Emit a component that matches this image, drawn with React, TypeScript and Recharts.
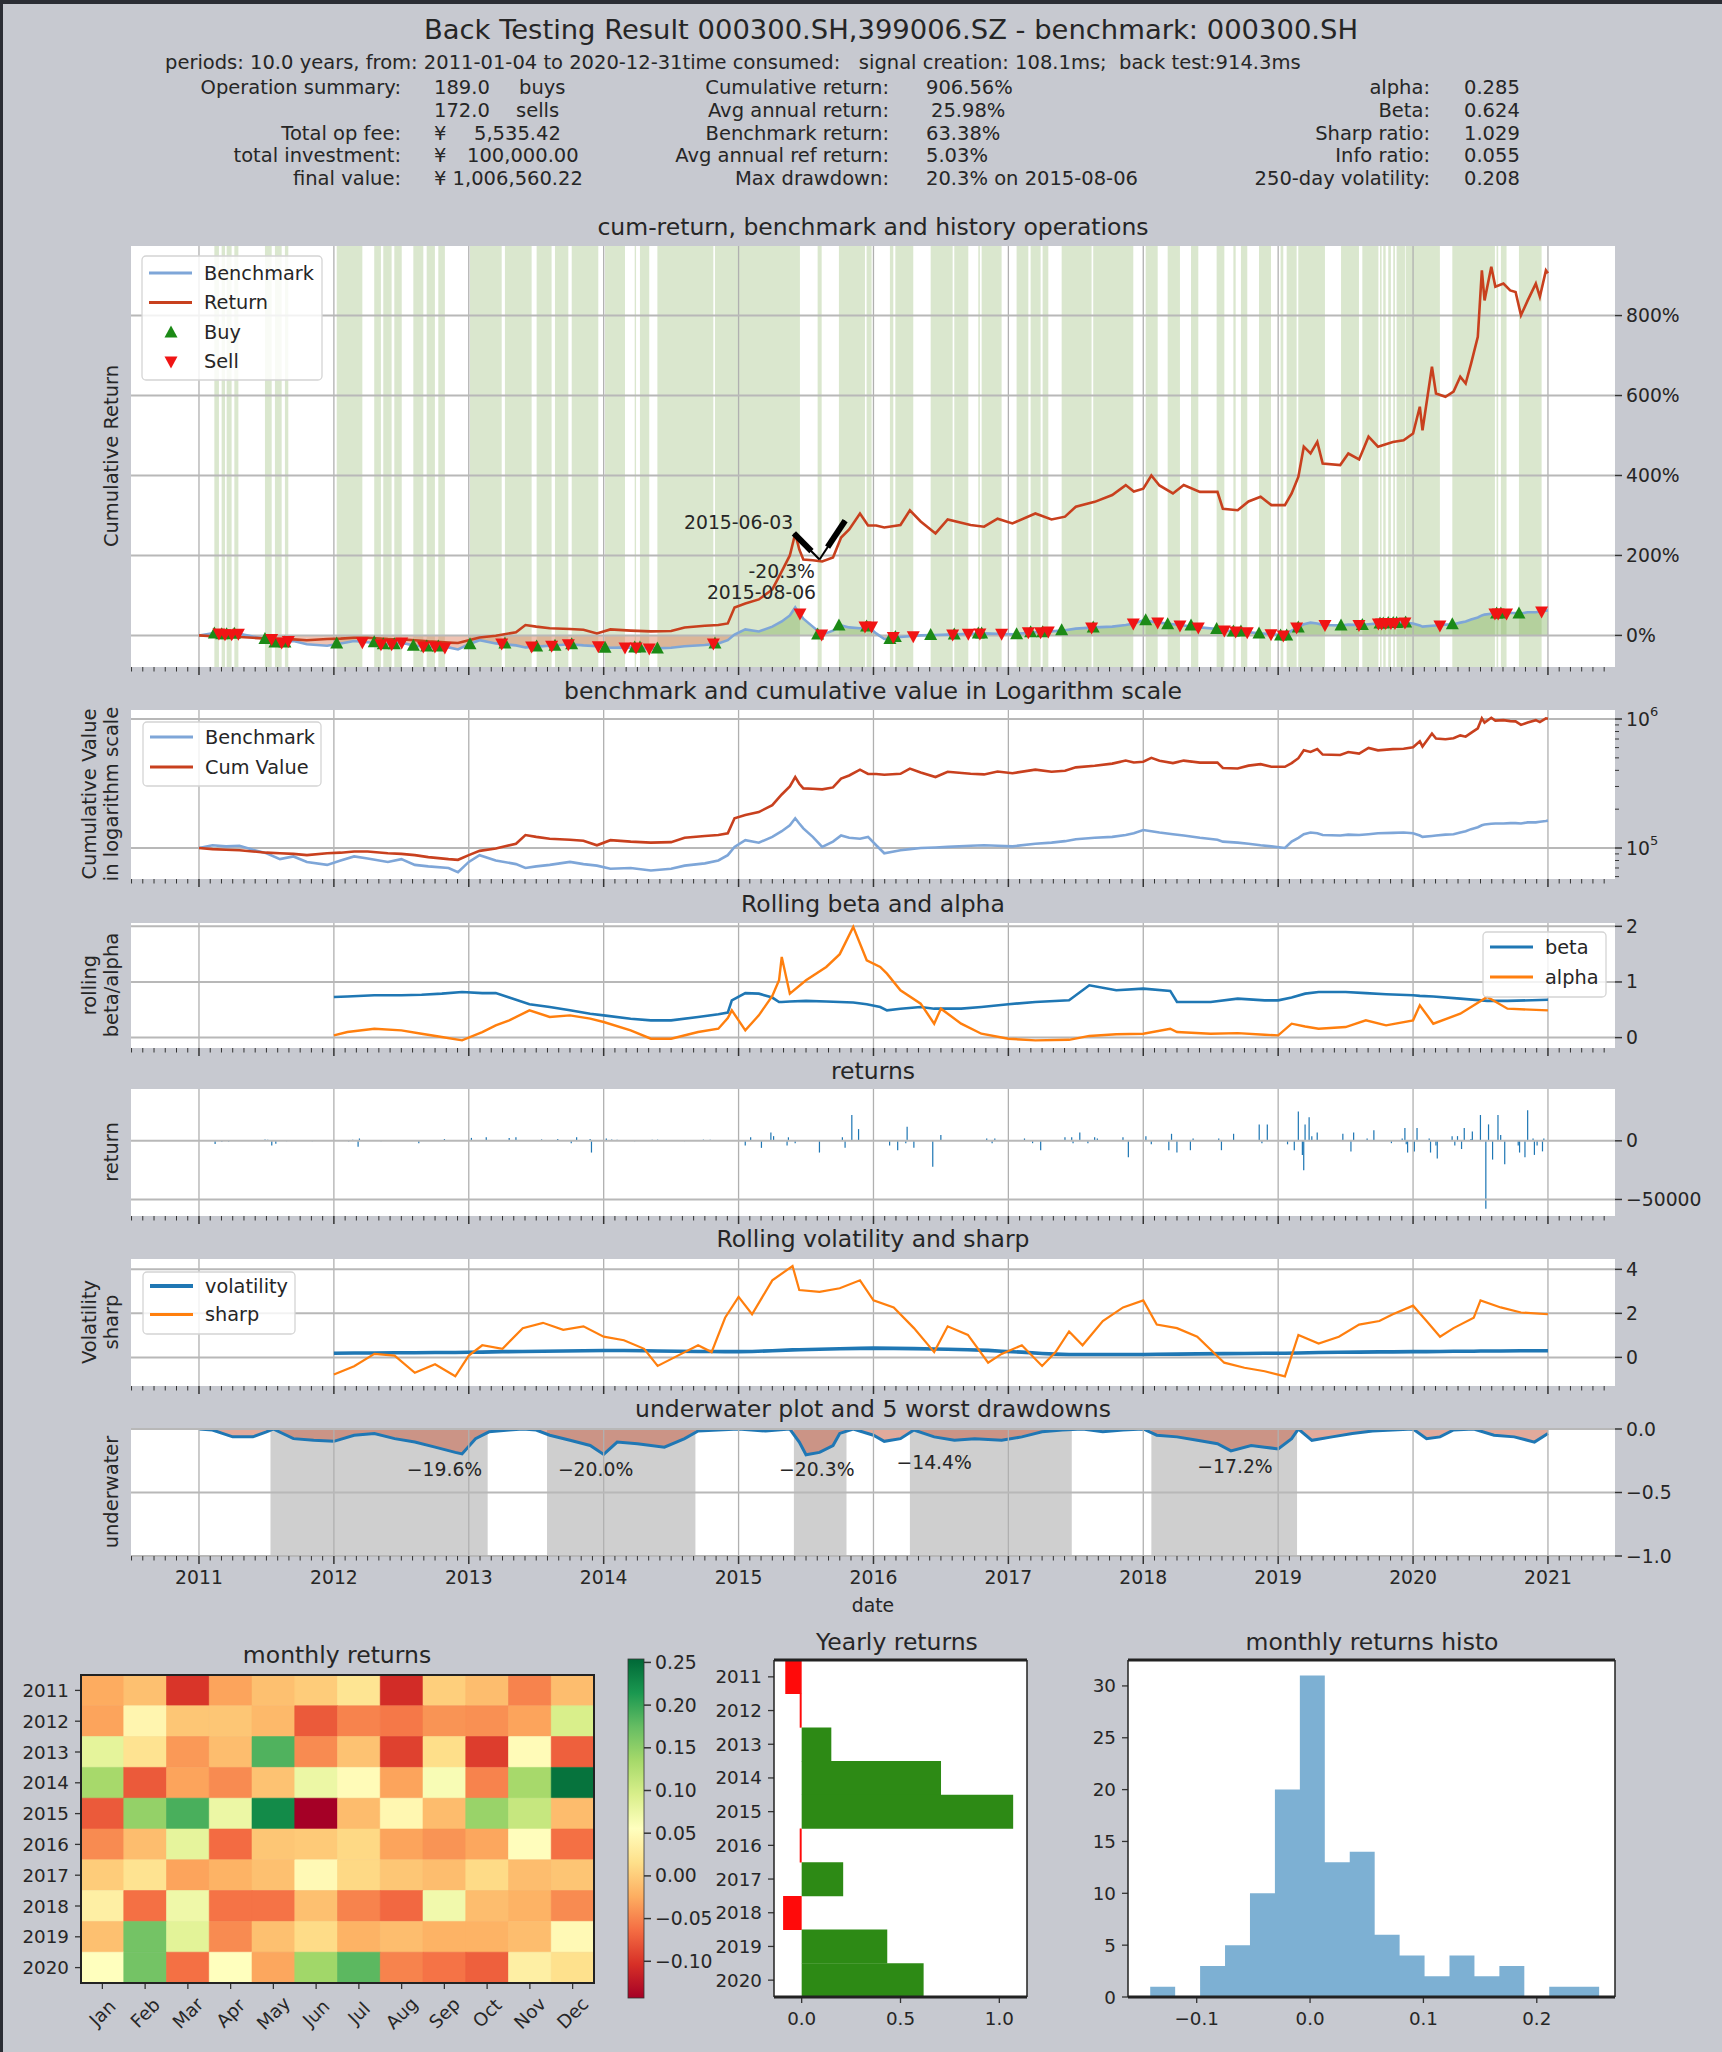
import React from 'react';
import {
  ComposedChart, BarChart, AreaChart, Line, Area, Bar, Scatter, XAxis, YAxis,
  ReferenceLine, ReferenceArea, ReferenceDot, Cell,
} from 'recharts';

const FONT = '"DejaVu Sans", "Noto Sans", sans-serif';
const BG = '#c7c9d0';
const INK = '#262626';
const FS = 18.8;
const FS_TXT = 19.5;
const FS_TITLE = 23.5;

// ---------- cumulative return vs benchmark (%) ----------
const cumDates = [
  2011.00, 2011.10, 2011.20, 2011.30, 2011.40, 2011.50, 2011.60, 2011.70, 2011.80, 2011.95,
  2012.05, 2012.15, 2012.25, 2012.40, 2012.50, 2012.60, 2012.70, 2012.85, 2012.92, 2013.00,
  2013.08, 2013.20, 2013.35, 2013.42, 2013.50, 2013.60, 2013.75, 2013.85, 2013.95, 2014.05,
  2014.20, 2014.35, 2014.50, 2014.60, 2014.75, 2014.85, 2014.92, 2014.97, 2015.05, 2015.15,
  2015.25, 2015.32, 2015.38, 2015.42, 2015.45, 2015.48, 2015.55, 2015.62, 2015.70, 2015.76,
  2015.82, 2015.90, 2015.96, 2016.02, 2016.08, 2016.20, 2016.27, 2016.35, 2016.46, 2016.55,
  2016.72, 2016.82, 2016.92, 2017.03, 2017.20, 2017.32, 2017.42, 2017.50, 2017.64, 2017.77,
  2017.87, 2017.93, 2018.00, 2018.06, 2018.12, 2018.22, 2018.30, 2018.42, 2018.55, 2018.59,
  2018.70, 2018.78, 2018.87, 2018.95, 2019.05, 2019.10, 2019.15, 2019.19, 2019.24, 2019.29,
  2019.33, 2019.46, 2019.52, 2019.60, 2019.67, 2019.74, 2019.85, 2019.93, 2020.00, 2020.05,
  2020.07, 2020.14, 2020.17, 2020.24, 2020.30, 2020.35, 2020.39, 2020.43, 2020.48, 2020.51,
  2020.53, 2020.58, 2020.61, 2020.67, 2020.72, 2020.76, 2020.80, 2020.85, 2020.91, 2020.94,
  2020.985, 2021.00,
];
const cumReturn = [
  0, -2, -3, -4, -6, -8, -9, -10, -12, -9,
  -8, -6, -6, -9, -10, -12, -15, -18, -19, -12,
  -5, -1, 8, 26, 22, 18, 16, 14, 5, 15,
  12, 10, 11, 20, 24, 26, 30, 70, 80, 90,
  115, 160, 200, 255, 215, 190, 188, 185, 195, 245,
  265, 305, 275, 275, 270, 276, 313, 285, 255, 290,
  276, 272, 292, 280, 305, 290, 297, 322, 334, 351,
  376, 360, 367, 400, 375, 355, 376, 359, 359, 317,
  313, 335, 347, 326, 326, 355, 397, 472, 455, 484,
  430, 426, 455, 440, 497, 472, 484, 488, 505, 572,
  513, 672, 605, 597, 610, 647, 630, 680, 747, 913,
  838, 922, 872, 880, 863, 859, 801, 838, 880, 847,
  913, 906,
];
const benchReturn = [
  0, 5, 3, 4, -3, -9, -18, -14, -22, -26,
  -20, -14, -17, -22, -18, -26, -28, -30, -35, -22,
  -12, -20, -25, -30, -28, -26, -22, -25, -27, -31,
  -30, -33, -31, -27, -24, -20, -12, 2, 15, 10,
  22, 35, 50, 70, 55, 42, 22, 2, 12, 25,
  20, 18, 22, 5, -9, -4, -2, 0, 1, 2,
  4, 5, 4, 3, 8, 10, 13, 17, 20, 22,
  26, 30, 38, 35, 32, 28, 25, 20, 16, 12,
  10, 8, 5, 3, 0, 12, 20, 28, 32, 30,
  26, 25, 27, 26, 28, 30, 31, 32, 30, 25,
  22, 24, 25, 27, 28, 32, 35, 40, 45, 50,
  52, 54, 55, 55, 56, 56, 55, 58, 58, 60,
  62, 63,
];

// holding periods (green bands): [start, end] in years
const BANDS = [
  [2011.114, 2011.148], [2011.168, 2011.193], [2011.205, 2011.242], [2011.262, 2011.292],
  [2011.489, 2011.539], [2011.563, 2011.613], [2011.637, 2011.662],
  [2012.021, 2012.211], [2012.299, 2012.349], [2012.366, 2012.428], [2012.448, 2012.503],
  [2012.589, 2012.663], [2012.688, 2012.749], [2012.774, 2012.823],
  [2013.009, 2013.244], [2013.268, 2013.466], [2013.503, 2013.614], [2013.639, 2013.738], [2013.763, 2013.960],
  [2014.010, 2014.158], [2014.230, 2014.240], [2014.269, 2014.338], [2014.398, 2014.813], [2014.825, 2015.455],
  [2015.586, 2015.616], [2015.744, 2015.937], [2015.949, 2015.986],
  [2016.122, 2016.147], [2016.162, 2016.295], [2016.424, 2016.587], [2016.599, 2016.703],
  [2016.777, 2016.789], [2016.802, 2016.950],
  [2017.061, 2017.148], [2017.165, 2017.239], [2017.254, 2017.296], [2017.395, 2017.617], [2017.629, 2017.926],
  [2018.018, 2018.107], [2018.181, 2018.272], [2018.354, 2018.408], [2018.544, 2018.601],
  [2018.668, 2018.685], [2018.724, 2018.771], [2018.858, 2018.947],
  [2019.018, 2019.038], [2019.063, 2019.137], [2019.149, 2019.347], [2019.466, 2019.599], [2019.624, 2019.743],
  [2019.755, 2019.767], [2019.779, 2019.797], [2019.816, 2019.836], [2019.853, 2019.866],
  [2019.878, 2019.940], [2019.945, 2020.199],
  [2020.291, 2020.607], [2020.619, 2020.631], [2020.651, 2020.693], [2020.785, 2020.953],
];

// ---------- rolling beta / alpha ----------
const betaDates = [
  2012.00, 2012.10, 2012.30, 2012.50, 2012.65, 2012.80, 2012.95, 2013.10, 2013.20, 2013.30,
  2013.45, 2013.60, 2013.75, 2013.90, 2014.00, 2014.20, 2014.35, 2014.50, 2014.70, 2014.85,
  2014.92, 2014.95, 2015.05, 2015.15, 2015.25, 2015.30, 2015.32, 2015.38, 2015.50, 2015.65,
  2015.75, 2015.85, 2015.95, 2016.05, 2016.10, 2016.20, 2016.35, 2016.45, 2016.50, 2016.65,
  2016.80, 2017.00, 2017.20, 2017.45, 2017.60, 2017.80, 2018.00, 2018.20, 2018.25, 2018.50,
  2018.70, 2018.90, 2019.00, 2019.10, 2019.20, 2019.30, 2019.50, 2019.65, 2019.80, 2020.00,
  2020.05, 2020.15, 2020.35, 2020.55, 2020.70, 2021.00,
];
const rollingBeta = [
  0.73, 0.74, 0.76, 0.76, 0.77, 0.79, 0.82, 0.80, 0.80, 0.72,
  0.60, 0.55, 0.49, 0.43, 0.40, 0.34, 0.31, 0.31, 0.37, 0.42,
  0.45, 0.67, 0.80, 0.79, 0.72, 0.64, 0.64, 0.65, 0.66, 0.65,
  0.64, 0.63, 0.60, 0.55, 0.49, 0.52, 0.55, 0.52, 0.52, 0.52,
  0.55, 0.60, 0.64, 0.67, 0.94, 0.85, 0.88, 0.84, 0.64, 0.64,
  0.70, 0.67, 0.67, 0.72, 0.79, 0.82, 0.82, 0.80, 0.78, 0.76,
  0.75, 0.74, 0.70, 0.66, 0.66, 0.68,
];
const rollingAlpha = [
  0.04, 0.10, 0.16, 0.13, 0.07, 0.01, -0.05, 0.10, 0.22, 0.31,
  0.49, 0.37, 0.40, 0.34, 0.28, 0.13, -0.02, -0.02, 0.10, 0.16,
  0.35, 0.49, 0.13, 0.40, 0.75, 1.03, 1.45, 0.79, 1.03, 1.27,
  1.50, 1.99, 1.39, 1.27, 1.15, 0.85, 0.61, 0.25, 0.52, 0.25,
  0.07, -0.02, -0.05, -0.04, 0.03, 0.06, 0.07, 0.16, 0.10, 0.07,
  0.08, 0.05, 0.04, 0.25, 0.20, 0.16, 0.19, 0.31, 0.22, 0.31,
  0.58, 0.25, 0.43, 0.73, 0.52, 0.49,
];

// ---------- daily return spikes ----------
const spikeDates = [
  2011.12, 2011.17, 2011.22, 2011.49, 2011.51, 2011.54, 2011.57, 2011.65, 2011.84, 2012.11,
  2012.14, 2012.18, 2012.19, 2012.35, 2012.63, 2012.82, 2013.02, 2013.06, 2013.13, 2013.16,
  2013.22, 2013.30, 2013.35, 2013.47, 2013.54, 2013.66, 2013.76, 2013.80, 2013.90, 2013.91,
  2014.02, 2014.06, 2014.10, 2014.23, 2014.36, 2014.40, 2014.53, 2014.60, 2014.74, 2014.79,
  2014.90, 2015.05, 2015.09, 2015.17, 2015.24, 2015.26, 2015.36, 2015.37, 2015.42, 2015.60,
  2015.77, 2015.79, 2015.84, 2015.89, 2016.12, 2016.18, 2016.24, 2016.25, 2016.30, 2016.44,
  2016.50, 2016.84, 2016.88, 2016.90, 2017.12, 2017.18, 2017.24, 2017.42, 2017.47, 2017.48,
  2017.53, 2017.59, 2017.64, 2017.66, 2017.85, 2017.89, 2018.02, 2018.06, 2018.19, 2018.21,
  2018.25, 2018.35, 2018.37, 2018.56, 2018.58, 2018.67, 2018.86, 2018.88, 2018.92, 2019.07,
  2019.12, 2019.15, 2019.18, 2019.19, 2019.20, 2019.23, 2019.25, 2019.29, 2019.48, 2019.54,
  2019.56, 2019.66, 2019.71, 2019.84, 2019.92, 2019.94, 2019.95, 2019.96, 2020.01, 2020.03,
  2020.12, 2020.13, 2020.17, 2020.18, 2020.29, 2020.31, 2020.33, 2020.36, 2020.38, 2020.43,
  2020.44, 2020.50, 2020.54, 2020.56, 2020.59, 2020.63, 2020.65, 2020.68, 2020.78, 2020.79,
  2020.83, 2020.85, 2020.89, 2020.90, 2020.92, 2020.96, 2020.97,
];
const spikeValues = [
  -2800, -800, -600, 1200, 1000, -4000, -2500, -300, -300, -500,
  1000, -5000, 2000, -400, -2000, 1500, 2500, 500, 3000, 800,
  600, 2500, 3000, 800, 1200, 1500, -2000, 3000, 1500, -10000,
  2000, 1200, 1000, -300, 1000, 1000, 800, -300, 1000, 1000,
  800, -4000, 3000, -6000, 7000, 4000, -4000, 3000, -2000, -10000,
  3000, -6000, 22000, 10000, -4000, -8000, -2000, 12000, -6000, -22000,
  5000, 2000, -2000, 2000, 2000, -2000, -8000, 3000, 3000, -2000,
  7000, -2000, 3000, 2000, 3000, -14000, 4000, -3000, -8000, 6000,
  -10000, -8000, 2000, 2000, -8000, 6000, 14000, -2000, 14000, -3000,
  -8000, 25000, -12000, -25000, 14000, 20000, 4000, 7000, 6000, -9000,
  7000, 2000, 9000, -2000, 2000, 11000, -3000, -10000, -9000, 11000,
  2000, -10000, -4000, -15000, 4000, -4000, 4000, -7000, 11000, 1500,
  8000, 22000, -58000, 14000, -16000, 22000, 5000, -20000, -4000, -10000,
  -14000, 26000, 2000, -12000, -4000, -9000, 2000,
];

// ---------- rolling volatility / sharp ----------
const volDates = [
  2012.00, 2012.15, 2012.30, 2012.45, 2012.60, 2012.75, 2012.90, 2013.00, 2013.10, 2013.25,
  2013.40, 2013.55, 2013.70, 2013.85, 2014.00, 2014.15, 2014.30, 2014.40, 2014.55, 2014.70,
  2014.80, 2014.90, 2015.00, 2015.10, 2015.25, 2015.40, 2015.45, 2015.60, 2015.75, 2015.90,
  2016.00, 2016.15, 2016.30, 2016.45, 2016.55, 2016.70, 2016.85, 2016.95, 2017.10, 2017.25,
  2017.35, 2017.45, 2017.55, 2017.70, 2017.85, 2018.00, 2018.10, 2018.25, 2018.40, 2018.60,
  2018.75, 2018.90, 2019.05, 2019.15, 2019.30, 2019.45, 2019.60, 2019.75, 2019.85, 2020.00,
  2020.10, 2020.20, 2020.30, 2020.45, 2020.50, 2020.65, 2020.80, 2021.00,
];
const rollingVol = [
  0.19, 0.20, 0.20, 0.21, 0.21, 0.22, 0.22, 0.23, 0.24, 0.26,
  0.27, 0.28, 0.29, 0.30, 0.31, 0.31, 0.30, 0.29, 0.28, 0.27,
  0.27, 0.26, 0.26, 0.27, 0.30, 0.34, 0.35, 0.37, 0.39, 0.41,
  0.42, 0.41, 0.40, 0.38, 0.37, 0.35, 0.32, 0.28, 0.24, 0.18,
  0.15, 0.13, 0.13, 0.13, 0.13, 0.13, 0.14, 0.15, 0.16, 0.17,
  0.18, 0.19, 0.19, 0.20, 0.22, 0.23, 0.24, 0.25, 0.25, 0.26,
  0.26, 0.27, 0.28, 0.28, 0.29, 0.29, 0.30, 0.30,
];
const rollingSharp = [
  -0.78, -0.40, 0.16, 0.08, -0.70, -0.31, -0.86, 0.08, 0.55, 0.39,
  1.33, 1.57, 1.25, 1.41, 0.94, 0.78, 0.39, -0.39, 0.08, 0.55,
  0.24, 1.80, 2.75, 1.96, 3.50, 4.15, 3.06, 2.98, 3.14, 3.50,
  2.59, 2.27, 1.33, 0.24, 1.41, 1.02, -0.24, 0.16, 0.55, -0.39,
  0.24, 1.18, 0.55, 1.65, 2.27, 2.59, 1.49, 1.33, 0.94, -0.24,
  -0.47, -0.63, -0.86, 1.02, 0.63, 0.94, 1.49, 1.65, 1.96, 2.35,
  1.65, 0.94, 1.33, 1.80, 2.59, 2.27, 2.04, 1.96,
];

// ---------- underwater ----------
const ddDates = [
  2011.00, 2011.10, 2011.25, 2011.40, 2011.50, 2011.55, 2011.70, 2011.85, 2012.00, 2012.15,
  2012.30, 2012.45, 2012.60, 2012.75, 2012.90, 2012.95, 2013.05, 2013.15, 2013.30, 2013.40,
  2013.50, 2013.60, 2013.75, 2013.90, 2014.00, 2014.10, 2014.25, 2014.45, 2014.60, 2014.70,
  2014.85, 2015.00, 2015.20, 2015.38, 2015.45, 2015.50, 2015.60, 2015.70, 2015.75, 2015.85,
  2016.00, 2016.08, 2016.20, 2016.30, 2016.45, 2016.60, 2016.75, 2016.95, 2017.10, 2017.25,
  2017.40, 2017.55, 2017.70, 2017.85, 2018.00, 2018.10, 2018.25, 2018.40, 2018.55, 2018.65,
  2018.80, 2018.90, 2019.00, 2019.10, 2019.15, 2019.25, 2019.40, 2019.55, 2019.70, 2019.85,
  2020.00, 2020.10, 2020.20, 2020.30, 2020.45, 2020.60, 2020.75, 2020.90, 2021.00,
];
const drawdown = [
  0, -0.008, -0.062, -0.062, -0.022, 0, -0.076, -0.089, -0.097, -0.049,
  -0.035, -0.076, -0.103, -0.143, -0.184, -0.196, -0.076, -0.022, -0.008, 0,
  -0.008, -0.049, -0.089, -0.130, -0.200, -0.103, -0.116, -0.143, -0.076, -0.016,
  -0.008, 0, -0.016, 0, -0.103, -0.203, -0.184, -0.130, -0.035, 0,
  -0.049, -0.097, -0.076, -0.008, -0.062, -0.089, -0.076, -0.089, -0.062, -0.022,
  -0.008, 0, -0.022, -0.008, 0, -0.049, -0.062, -0.089, -0.116, -0.172,
  -0.130, -0.143, -0.157, -0.076, 0, -0.089, -0.062, -0.035, -0.016, -0.008,
  0, -0.076, -0.062, -0.008, 0, -0.049, -0.062, -0.103, -0.035,
];
// five worst drawdowns: [start, end, label year, label depth, text]
const worstDD = [
  [2011.53, 2013.14, 2012.82, -0.32, '\u221219.6%'],
  [2013.58, 2014.68, 2013.94, -0.32, '\u221220.0%'],
  [2015.41, 2015.80, 2015.58, -0.32, '\u221220.3%'],
  [2016.27, 2017.47, 2016.45, -0.265, '\u221214.4%'],
  [2018.06, 2019.14, 2018.68, -0.29, '\u221217.2%'],
];

// ---------- monthly / yearly ----------
const YEARS = [2011, 2012, 2013, 2014, 2015, 2016, 2017, 2018, 2019, 2020];
const MONTHS = ['Jan', 'Feb', 'Mar', 'Apr', 'May', 'Jun', 'Jul', 'Aug', 'Sep', 'Oct', 'Nov', 'Dec'];
const MONTHLY = [
  [-0.025, -0.010, -0.100, -0.030, -0.010, 0.000, 0.022, -0.107, 0.002, -0.012, -0.050, -0.012],
  [-0.030, 0.043, -0.005, -0.005, -0.015, -0.076, -0.050, -0.057, -0.040, -0.042, -0.030, 0.095],
  [0.083, 0.020, -0.037, -0.012, 0.186, -0.045, -0.008, -0.092, 0.015, -0.095, 0.050, -0.072],
  [0.134, -0.076, -0.030, -0.045, -0.008, 0.075, 0.050, -0.030, 0.063, -0.050, 0.134, 0.245],
  [-0.076, 0.146, 0.190, 0.075, 0.225, -0.143, -0.013, 0.045, -0.013, 0.143, 0.110, -0.013],
  [-0.045, -0.012, 0.082, -0.065, -0.005, -0.002, 0.010, -0.030, -0.040, -0.028, 0.053, -0.062],
  [0.000, 0.020, -0.030, -0.020, -0.010, 0.048, 0.010, -0.005, -0.012, 0.012, -0.012, -0.006],
  [0.035, -0.062, 0.072, -0.060, -0.060, -0.010, -0.050, -0.067, 0.070, -0.012, -0.020, -0.045],
  [-0.010, 0.166, 0.085, -0.045, -0.010, 0.013, -0.020, -0.012, -0.020, -0.020, -0.012, 0.048],
  [0.055, 0.166, -0.062, 0.056, -0.028, 0.138, 0.180, -0.050, -0.060, -0.072, 0.035, 0.017],
];
const YEARLY = [-0.083, -0.010, 0.150, 0.705, 1.070, -0.010, 0.210, -0.094, 0.433, 0.617];
const HIST_EDGES = [-0.141, -0.119, -0.097, -0.075, -0.053, -0.031, -0.009, 0.013, 0.035, 0.057,
  0.079, 0.101, 0.123, 0.145, 0.167, 0.189, 0.211, 0.233, 0.255];
const HIST_COUNTS = [1, 0, 3, 5, 10, 20, 31, 13, 14, 6, 4, 2, 4, 2, 3, 0, 1, 1];

// ---------- derived tables ----------
const cumData = cumDates.map((t, i) => ({
  t,
  ret: cumReturn[i],
  bench: benchReturn[i],
  benchPos: Math.max(benchReturn[i], 0),
  benchNeg: Math.min(benchReturn[i], 0),
  cv: 100000 * (1 + cumReturn[i] / 100),
  bv: 100000 * (1 + benchReturn[i] / 100),
}));
const nearestBench = (t: number) => {
  let best = 0;
  cumDates.forEach((d, i) => { if (Math.abs(d - t) < Math.abs(cumDates[best] - t)) best = i; });
  return benchReturn[best];
};
const buyPts = BANDS.map(([s]) => ({ t: s, y: nearestBench(s) }));
const sellPts = BANDS.map(([, e]) => ({ t: e, y: nearestBench(e) }));
const betaData = betaDates.map((t, i) => ({ t, beta: rollingBeta[i], alpha: rollingAlpha[i] }));
const spikeData = spikeDates.map((t, i) => ({ t, v: spikeValues[i] }));
const volData = volDates.map((t, i) => ({ t, vol: rollingVol[i], sharp: rollingSharp[i] }));
const ddData = ddDates.map((t, i) => ({ t, dd: drawdown[i] }));
const heatRows = MONTHS.map((m) => {
  const r: any = { m };
  YEARS.forEach((y) => { r['y' + y] = 1; });
  return r;
});
const yearlyData = YEARS.map((y, i) => ({ year: String(y), r: YEARLY[i] }));
const histData = HIST_EDGES.map((x, i) => ({ x, c: HIST_COUNTS[Math.min(i, HIST_COUNTS.length - 1)] }));

// ---------- colormap ----------
const CB_MIN = -0.143;
const CB_MAX = 0.254;
const RDYLGN = ['#a50026', '#d73027', '#f46d43', '#fdae61', '#fee08b', '#ffffbf',
  '#d9ef8b', '#a6d96a', '#66bd63', '#1a9850', '#006837'];
const hexRgb = (h: string) => [1, 3, 5].map((k) => parseInt(h.slice(k, k + 2), 16));
function rdylgn(v: number) {
  const t = Math.max(0, Math.min(1, (v - CB_MIN) / (CB_MAX - CB_MIN)));
  const p = t * 10;
  const i = Math.min(9, Math.floor(p));
  const f = p - i;
  const a = hexRgb(RDYLGN[i]);
  const b = hexRgb(RDYLGN[i + 1]);
  return `rgb(${a.map((c, k) => Math.round(c + (b[k] - c) * f)).join(',')})`;
}

// ---------- axes helpers ----------
const X_DOMAIN = [2010.496, 2021.497];
const YEAR_LINES = [2011, 2012, 2013, 2014, 2015, 2016, 2017, 2018, 2019, 2020, 2021];
const monthTicks: number[] = [];
for (let m = 0; m <= 131; m++) monthTicks.push(+(2010.5 + m / 12).toFixed(6));

const TimeTick = (p: any) => {
  const v = p.payload.value;
  const major = Math.abs(v - Math.round(v)) < 1e-3;
  return (
    <g>
      <line x1={p.x} x2={p.x} y1={p.y} y2={p.y + (major ? 8 : 4.5)} stroke="#333" strokeWidth={major ? 1.5 : 1} />
      {p.labelled && major ? (
        <text x={p.x} y={p.y + 21} textAnchor="middle" dominantBaseline="central" fontSize={FS} fill={INK} fontFamily={FONT}>
          {Math.round(v)}
        </text>
      ) : null}
    </g>
  );
};

const rightTick = (fmt: (v: number) => any, isMajor: (v: number) => boolean = () => true) => (p: any) => {
  const v = p.payload.value;
  const major = isMajor(v);
  return (
    <g>
      <line x1={p.x} x2={p.x + (major ? 7 : 4)} y1={p.y} y2={p.y} stroke="#333" strokeWidth={major ? 1.5 : 1} />
      {major ? (
        <text x={p.x + 11} y={p.y} dominantBaseline="central" fontSize={FS} fill={INK} fontFamily={FONT}>{fmt(v)}</text>
      ) : null}
    </g>
  );
};

const timeAxis = (labelled: boolean) => (
  <XAxis dataKey="t" type="number" domain={X_DOMAIN} ticks={monthTicks} interval={0}
    tick={(p: any) => <TimeTick {...p} labelled={labelled} />}
    tickLine={false} axisLine={false} tickSize={0} tickMargin={0}
    height={labelled ? 60 : 12} allowDataOverflow />
);

const rightAxis = (domain: number[], ticks: number[], fmt: (v: number) => any, scale: any = 'auto',
  isMajor?: (v: number) => boolean) => (
  <YAxis orientation="right" type="number" domain={domain} ticks={ticks} interval={0} width={80}
    scale={scale} tick={rightTick(fmt, isMajor)} tickLine={false} axisLine={false}
    tickSize={0} tickMargin={0} allowDataOverflow />
);

const vGrid = YEAR_LINES.map((y) => (
  <ReferenceLine key={'v' + y} x={y} stroke="#b0b0b0" strokeWidth={1.3} />
));
const hGrid = (vals: number[]) => vals.map((v) => (
  <ReferenceLine key={'h' + v} y={v} stroke="#b8b8b8" strokeWidth={2} />
));

const TriUp = (p: any) => (
  <path d={`M${p.cx},${p.cy - 7} L${p.cx + 6.5},${p.cy + 5} L${p.cx - 6.5},${p.cy + 5} Z`} fill="#1c8a16" />
);
const TriDown = (p: any) => (
  <path d={`M${p.cx},${p.cy + 7} L${p.cx + 6.5},${p.cy - 5} L${p.cx - 6.5},${p.cy - 5} Z`} fill="#f01414" />
);

const minus = (v: number, d: number) => (v < 0 ? '\u2212' : '') + Math.abs(v).toFixed(d);

// panel bounds (plot area, px)
const P1 = [246, 667];
const P2 = [710, 879];
const P3 = [923, 1048];
const P4 = [1089, 1216];
const P5 = [1259, 1386];
const P6 = [1429, 1556];
const MARGIN = { top: 10, right: 27, left: 131, bottom: 0 };

const Panel = ({ p, labelled, children }: any) => (
  <div style={{ position: 'absolute', left: 0, top: p[0] - 10 }}>{children(p[1] - p[0] + 10 + (labelled ? 60 : 12))}</div>
);

const logFmt = (v: number) => (
  <>
    <tspan>10</tspan>
    <tspan dy={-8} fontSize={13}>{Math.round(Math.log10(v))}</tspan>
  </>
);
const LOG_TICKS = [60000, 70000, 80000, 90000, 100000, 200000, 300000, 400000, 500000, 600000, 700000, 800000, 900000, 1000000];

const annot = (x: number, y: number, text: string) => (
  <ReferenceDot key={text} x={x} y={y} r={0} fill="none" stroke="none"
    label={{ value: text, position: 'center', fill: INK, fontSize: FS }} />
);

function Legend({ x, y, w, h, items }: any) {
  return (
    <g>
      <rect x={x} y={y} width={w} height={h} rx={4} fill="#fff" fillOpacity={0.82} stroke="#d4d4d4" strokeWidth={1.3} />
      {items.map((it: any, i: number) => (
        <g key={i}>
          {it.kind === 'line' ? (
            <line x1={x + 7} x2={x + 50} y1={it.y} y2={it.y} stroke={it.color} strokeWidth={it.w || 3} />
          ) : it.kind === 'up' ? (
            <path d={`M${x + 29},${it.y - 7} L${x + 35.5},${it.y + 5} L${x + 22.5},${it.y + 5} Z`} fill={it.color} />
          ) : (
            <path d={`M${x + 29},${it.y + 7} L${x + 35.5},${it.y - 5} L${x + 22.5},${it.y - 5} Z`} fill={it.color} />
          )}
          <text x={x + 62} y={it.y} dominantBaseline="central" fontSize={19.3} fill={INK}>{it.label}</text>
        </g>
      ))}
    </g>
  );
}

const T = ({ x, y, size = FS_TXT, anchor = 'start', children, rotate }: any) => (
  <text x={x} y={y} fontSize={size} textAnchor={anchor} dominantBaseline="central" fill={INK}
    transform={rotate ? `rotate(-90 ${x} ${y})` : undefined} style={{ whiteSpace: 'pre' }}>
    {children}
  </text>
);

const leftTick = (fmt: (v: any) => any, size = 18.3) => (p: any) => (
  <g>
    <line x1={p.x - 6} x2={p.x} y1={p.y} y2={p.y} stroke="#333" strokeWidth={1.3} />
    <text x={p.x - 12} y={p.y} textAnchor="end" dominantBaseline="central" fontSize={size} fill={INK} fontFamily={FONT}>
      {fmt(p.payload.value)}
    </text>
  </g>
);
const bottomTick = (fmt: (v: any) => any) => (p: any) => (
  <g>
    <line x1={p.x} x2={p.x} y1={p.y} y2={p.y + 6} stroke="#333" strokeWidth={1.3} />
    <text x={p.x} y={p.y + 21} textAnchor="middle" dominantBaseline="central" fontSize={18.3} fill={INK} fontFamily={FONT}>
      {fmt(p.payload.value)}
    </text>
  </g>
);
const MonthTick = (p: any) => (
  <g>
    <line x1={p.x} x2={p.x} y1={p.y} y2={p.y + 6} stroke="#333" strokeWidth={1.3} />
    <text x={p.x} y={p.y + 30} textAnchor="middle" dominantBaseline="central" fontSize={18.3} fill={INK}
      fontFamily={FONT} transform={`rotate(-45 ${p.x} ${p.y + 30})`}>
      {p.payload.value}
    </text>
  </g>
);

const whiteBoxes = [
  [131, P1[0], 1484, P1[1] - P1[0]], [131, P2[0], 1484, P2[1] - P2[0]], [131, P3[0], 1484, P3[1] - P3[0]],
  [131, P4[0], 1484, P4[1] - P4[0]], [131, P5[0], 1484, P5[1] - P5[0]], [131, P6[0], 1484, P6[1] - P6[0]],
  [774, 1660, 253, 337], [1128, 1660, 487, 337],
];

export default function App() {
  return (
    <div style={{ position: 'absolute', left: 0, top: 0, width: 1722, height: 2052, background: BG, fontFamily: FONT, overflow: 'hidden' }}>
      <div style={{ position: 'absolute', left: 0, top: 0, width: 1722, height: 4, background: '#2b2d34' }} />
      <div style={{ position: 'absolute', left: 0, top: 0, width: 3, height: 2052, background: '#2b2d34' }} />
      {whiteBoxes.map(([x, y, w, h], i) => (
        <div key={i} style={{ position: 'absolute', left: x, top: y, width: w, height: h, background: '#fff' }} />
      ))}

      {/* cum-return, benchmark and history operations */}
      <Panel p={P1}>
        {(H: number) => (
          <ComposedChart width={1722} height={H} data={cumData} margin={MARGIN}>
            {timeAxis(false)}
            {rightAxis([-79, 974], [0, 200, 400, 600, 800], (v) => `${v}%`)}
            {BANDS.map(([a, b], i) => (
              <ReferenceArea key={'band' + i} x1={a} x2={b} fill="#a8c68a" fillOpacity={0.42} stroke="none" />
            ))}
            {vGrid}
            {hGrid([0, 200, 400, 600, 800])}
            <Area dataKey="benchPos" baseValue={0} stroke="none" fill="#7aae55" fillOpacity={0.4} isAnimationActive={false} />
            <Area dataKey="benchNeg" baseValue={0} stroke="none" fill="#dc7a57" fillOpacity={0.45} isAnimationActive={false} />
            <Line dataKey="bench" stroke="#7ea6d8" strokeWidth={2.6} dot={false} activeDot={false} isAnimationActive={false} />
            <Line dataKey="ret" stroke="#c8401e" strokeWidth={2.6} dot={false} activeDot={false} isAnimationActive={false} />
            <Scatter data={buyPts} dataKey="y" shape={TriUp} isAnimationActive={false} />
            <Scatter data={sellPts} dataKey="y" shape={TriDown} isAnimationActive={false} />
            <ReferenceLine segment={[{ x: 2015.41, y: 255 }, { x: 2015.6, y: 190 }]} stroke="#000" strokeWidth={2} />
            <ReferenceLine segment={[{ x: 2015.41, y: 255 }, { x: 2015.54, y: 211 }]} stroke="#000" strokeWidth={6} />
            <ReferenceLine segment={[{ x: 2015.79, y: 287 }, { x: 2015.6, y: 190 }]} stroke="#000" strokeWidth={2} />
            <ReferenceLine segment={[{ x: 2015.79, y: 287 }, { x: 2015.66, y: 221 }]} stroke="#000" strokeWidth={6} />
            {annot(2015.0, 282, '2015-06-03')}
            {annot(2015.32, 160, '-20.3%')}
            {annot(2015.17, 107, '2015-08-06')}
          </ComposedChart>
        )}
      </Panel>

      {/* benchmark and cumulative value in Logarithm scale */}
      <Panel p={P2}>
        {(H: number) => (
          <ComposedChart width={1722} height={H} data={cumData} margin={MARGIN}>
            {timeAxis(false)}
            {rightAxis([57500, 1174800], LOG_TICKS, logFmt, 'log', (v) => v === 100000 || v === 1000000)}
            {vGrid}
            {hGrid([100000, 1000000])}
            <Line dataKey="bv" stroke="#7ea6d8" strokeWidth={2.6} dot={false} activeDot={false} isAnimationActive={false} />
            <Line dataKey="cv" stroke="#c8401e" strokeWidth={2.6} dot={false} activeDot={false} isAnimationActive={false} />
          </ComposedChart>
        )}
      </Panel>

      {/* Rolling beta and alpha */}
      <Panel p={P3}>
        {(H: number) => (
          <ComposedChart width={1722} height={H} data={betaData} margin={MARGIN}>
            {timeAxis(false)}
            {rightAxis([-0.187, 2.06], [0, 1, 2], (v) => String(v))}
            {vGrid}
            {hGrid([0, 1, 2])}
            <Line dataKey="beta" stroke="#1f77b4" strokeWidth={2.6} dot={false} activeDot={false} isAnimationActive={false} />
            <Line dataKey="alpha" stroke="#ff7f0e" strokeWidth={2.4} dot={false} activeDot={false} isAnimationActive={false} />
          </ComposedChart>
        )}
      </Panel>

      {/* returns */}
      <Panel p={P4}>
        {(H: number) => (
          <ComposedChart width={1722} height={H} data={spikeData} margin={MARGIN}>
            {timeAxis(false)}
            {rightAxis([-64100, 44190], [-50000, 0], (v) => (v === 0 ? '0' : '\u221250000'))}
            {vGrid}
            {hGrid([-50000, 0])}
            <Bar dataKey="v" fill="#1f77b4" barSize={2.6} isAnimationActive={false} />
          </ComposedChart>
        )}
      </Panel>

      {/* Rolling volatility and sharp */}
      <Panel p={P5}>
        {(H: number) => (
          <ComposedChart width={1722} height={H} data={volData} margin={MARGIN}>
            {timeAxis(false)}
            {rightAxis([-1.3, 4.47], [0, 2, 4], (v) => String(v))}
            {vGrid}
            {hGrid([0, 2, 4])}
            <Line dataKey="vol" stroke="#1f77b4" strokeWidth={3.6} dot={false} activeDot={false} isAnimationActive={false} />
            <Line dataKey="sharp" stroke="#ff7f0e" strokeWidth={2.2} dot={false} activeDot={false} isAnimationActive={false} />
          </ComposedChart>
        )}
      </Panel>

      {/* underwater */}
      <Panel p={P6} labelled>
        {(H: number) => (
          <ComposedChart width={1722} height={H} data={ddData} margin={MARGIN}>
            {timeAxis(true)}
            {rightAxis([-1, 0], [-1, -0.5, 0], (v) => minus(v, 1))}
            {worstDD.map((d: any, i) => (
              <ReferenceArea key={'dd' + i} x1={d[0]} x2={d[1]} fill="#cfcfcf" fillOpacity={1} stroke="none" />
            ))}
            {vGrid}
            {hGrid([-1, -0.5, 0])}
            <Area dataKey="dd" baseValue={0} stroke="#1f77b4" strokeWidth={3} fill="#c8644a" fillOpacity={0.55} isAnimationActive={false} />
            {worstDD.map((d: any) => annot(d[2], d[3], d[4]))}
          </ComposedChart>
        )}
      </Panel>

      {/* monthly returns heatmap */}
      <div style={{ position: 'absolute', left: 0, top: 1640 }}>
        <BarChart width={620} height={412} data={heatRows} margin={{ top: 35, right: 26, left: 21, bottom: 9 }} barCategoryGap={0} barGap={0}>
          <XAxis dataKey="m" interval={0} height={60} tickLine={false} axisLine={false} tickSize={0} tickMargin={0} tick={MonthTick} />
          <YAxis type="number" domain={[0, 10]} reversed ticks={YEARS.map((_, i) => i + 0.5)} interval={0} width={60}
            tick={leftTick((v) => YEARS[Math.floor(v)])} tickLine={false} axisLine={false} tickSize={0} tickMargin={0} />
          {YEARS.map((y, yi) => (
            <Bar key={y} dataKey={'y' + y} stackId="h" isAnimationActive={false}>
              {MONTHLY[yi].map((v, mi) => (
                <Cell key={mi} fill={rdylgn(v)} stroke={rdylgn(v)} strokeWidth={0.6} />
              ))}
            </Bar>
          ))}
        </BarChart>
      </div>

      {/* colorbar */}
      <div style={{ position: 'absolute', left: 600, top: 1640 }}>
        <BarChart width={130} height={412} data={[{ k: 'cb', r: [CB_MIN, CB_MAX] }]} margin={{ top: 19, right: 0, left: 28, bottom: 54 }} barCategoryGap={0}>
          <defs>
            <linearGradient id="cbg" x1="0" y1="1" x2="0" y2="0">
              {RDYLGN.map((c, i) => <stop key={i} offset={`${i * 10}%`} stopColor={c} />)}
            </linearGradient>
          </defs>
          <XAxis dataKey="k" hide />
          <YAxis orientation="right" type="number" domain={[CB_MIN, CB_MAX]} allowDataOverflow
            ticks={[-0.1, -0.05, 0, 0.05, 0.1, 0.15, 0.2, 0.25]} interval={0} width={86}
            tick={rightTick((v) => minus(v, 2))} tickLine={false} axisLine={false} tickSize={0} tickMargin={0} />
          <Bar dataKey="r" fill="url(#cbg)" isAnimationActive={false} />
        </BarChart>
      </div>

      {/* yearly returns */}
      <div style={{ position: 'absolute', left: 700, top: 1640 }}>
        <BarChart layout="vertical" width={340} height={412} data={yearlyData} margin={{ top: 20, right: 13, left: 12, bottom: 10 }} barCategoryGap={0}>
          <XAxis type="number" domain={[-0.14, 1.14]} ticks={[0, 0.5, 1]} interval={0} height={45} allowDataOverflow
            tick={bottomTick((v) => v.toFixed(1))} tickLine={false} axisLine={false} tickSize={0} tickMargin={0} />
          <YAxis type="category" dataKey="year" width={62} interval={0}
            tick={leftTick((v) => v)} tickLine={false} axisLine={false} tickSize={0} tickMargin={0} />
          <Bar dataKey="r" isAnimationActive={false}>
            {YEARLY.map((v, i) => <Cell key={i} fill={v < 0 ? '#ff0a0a' : '#2d8a15'} />)}
          </Bar>
        </BarChart>
      </div>

      {/* monthly returns histogram */}
      <div style={{ position: 'absolute', left: 1050, top: 1640 }}>
        <AreaChart width={600} height={412} data={histData} margin={{ top: 20, right: 35, left: 18, bottom: 10 }}>
          <XAxis dataKey="x" type="number" domain={[-0.1606, 0.269]} ticks={[-0.1, 0, 0.1, 0.2]} interval={0} height={45} allowDataOverflow
            tick={bottomTick((v) => minus(v, 1))} tickLine={false} axisLine={false} tickSize={0} tickMargin={0} />
          <YAxis type="number" domain={[0, 32.5]} ticks={[0, 5, 10, 15, 20, 25, 30]} interval={0} width={60} allowDataOverflow
            tick={leftTick((v) => v)} tickLine={false} axisLine={false} tickSize={0} tickMargin={0} />
          <Area type="stepAfter" dataKey="c" baseValue={0} stroke="none" fill="#1f77b4" fillOpacity={0.58} isAnimationActive={false} />
        </AreaChart>
      </div>

      {/* text, legends and frames */}
      <svg width={1722} height={2052} style={{ position: 'absolute', left: 0, top: 0, pointerEvents: 'none' }} fontFamily={FONT}>
        <T x={891} y={29} size={27.4} anchor="middle">Back Testing Result 000300.SH,399006.SZ - benchmark: 000300.SH</T>
        <T x={165} y={62}>periods: 10.0 years, from: 2011-01-04 to 2020-12-31time consumed:   signal creation: 108.1ms;  back test:914.3ms</T>

        <T x={401} y={87} anchor="end">Operation summary:</T>
        <T x={401} y={133} anchor="end">Total op fee:</T>
        <T x={401} y={155} anchor="end">total investment:</T>
        <T x={401} y={178} anchor="end">final value:</T>
        <T x={434} y={87}>189.0</T>
        <T x={519} y={87}>buys</T>
        <T x={434} y={110}>172.0</T>
        <T x={516} y={110}>sells</T>
        <T x={434} y={133}>¥</T>
        <T x={474} y={133}>5,535.42</T>
        <T x={434} y={155}>¥</T>
        <T x={467} y={155}>100,000.00</T>
        <T x={434} y={178}>¥ 1,006,560.22</T>

        <T x={889} y={87} anchor="end">Cumulative return:</T>
        <T x={889} y={110} anchor="end">Avg annual return:</T>
        <T x={889} y={133} anchor="end">Benchmark return:</T>
        <T x={889} y={155} anchor="end">Avg annual ref return:</T>
        <T x={889} y={178} anchor="end">Max drawdown:</T>
        <T x={926} y={87}>906.56%</T>
        <T x={931} y={110}>25.98%</T>
        <T x={926} y={133}>63.38%</T>
        <T x={926} y={155}>5.03%</T>
        <T x={926} y={178}>20.3% on 2015-08-06</T>

        <T x={1430} y={87} anchor="end">alpha:</T>
        <T x={1430} y={110} anchor="end">Beta:</T>
        <T x={1430} y={133} anchor="end">Sharp ratio:</T>
        <T x={1430} y={155} anchor="end">Info ratio:</T>
        <T x={1430} y={178} anchor="end">250-day volatility:</T>
        <T x={1464} y={87}>0.285</T>
        <T x={1464} y={110}>0.624</T>
        <T x={1464} y={133}>1.029</T>
        <T x={1464} y={155}>0.055</T>
        <T x={1464} y={178}>0.208</T>

        <T x={873} y={227} size={FS_TITLE} anchor="middle">cum-return, benchmark and history operations</T>
        <T x={873} y={691} size={FS_TITLE} anchor="middle">benchmark and cumulative value in Logarithm scale</T>
        <T x={873} y={904} size={FS_TITLE} anchor="middle">Rolling beta and alpha</T>
        <T x={873} y={1071} size={FS_TITLE} anchor="middle">returns</T>
        <T x={873} y={1239} size={FS_TITLE} anchor="middle">Rolling volatility and sharp</T>
        <T x={873} y={1409} size={FS_TITLE} anchor="middle">underwater plot and 5 worst drawdowns</T>
        <T x={873} y={1605} size={FS} anchor="middle">date</T>

        <T x={111} y={456} anchor="middle" rotate>Cumulative Return</T>
        <T x={89} y={794} anchor="middle" rotate>Cumulative Value</T>
        <T x={111} y={794} anchor="middle" rotate>in logarithm scale</T>
        <T x={89} y={985} anchor="middle" rotate>rolling</T>
        <T x={111} y={985} anchor="middle" rotate>beta/alpha</T>
        <T x={111} y={1152} anchor="middle" rotate>return</T>
        <T x={89} y={1322} anchor="middle" rotate>Volatility</T>
        <T x={111} y={1322} anchor="middle" rotate>sharp</T>
        <T x={111} y={1492} anchor="middle" rotate>underwater</T>

        <Legend x={142} y={256} w={180} h={124} items={[
          { kind: 'line', color: '#7ea6d8', label: 'Benchmark', y: 273 },
          { kind: 'line', color: '#c8401e', label: 'Return', y: 302.5 },
          { kind: 'up', color: '#1c8a16', label: 'Buy', y: 332.5 },
          { kind: 'down', color: '#f01414', label: 'Sell', y: 361.5 },
        ]} />
        <Legend x={143} y={722} w={178} h={64} items={[
          { kind: 'line', color: '#7ea6d8', label: 'Benchmark', y: 737 },
          { kind: 'line', color: '#c8401e', label: 'Cum Value', y: 767 },
        ]} />
        <Legend x={1483} y={932} w={123} h={65} items={[
          { kind: 'line', color: '#1f77b4', label: 'beta', y: 947 },
          { kind: 'line', color: '#ff7f0e', label: 'alpha', y: 977 },
        ]} />
        <Legend x={143} y={1272} w={152} h={62} items={[
          { kind: 'line', color: '#1f77b4', label: 'volatility', y: 1286, w: 4 },
          { kind: 'line', color: '#ff7f0e', label: 'sharp', y: 1314.5 },
        ]} />

        <T x={337} y={1655} size={FS_TITLE} anchor="middle">monthly returns</T>
        <T x={897} y={1642} size={FS_TITLE} anchor="middle">Yearly returns</T>
        <T x={1372} y={1642} size={FS_TITLE} anchor="middle">monthly returns histo</T>

        <rect x={81} y={1675} width={513} height={308} fill="none" stroke="#222" strokeWidth={2} />
        <rect x={628} y={1659} width={16} height={339} fill="none" stroke="#333" strokeWidth={0.8} />
        {[[774, 1027], [1128, 1615]].map(([a, b], i) => (
          <g key={i}>
            <line x1={a} x2={b} y1={1660} y2={1660} stroke="#222" strokeWidth={3} />
            <line x1={a} x2={b} y1={1997} y2={1997} stroke="#222" strokeWidth={3} />
            <line x1={a} x2={a} y1={1660} y2={1997} stroke="#222" strokeWidth={1.5} />
            <line x1={b} x2={b} y1={1660} y2={1997} stroke="#222" strokeWidth={1.5} />
          </g>
        ))}
      </svg>
    </div>
  );
}
